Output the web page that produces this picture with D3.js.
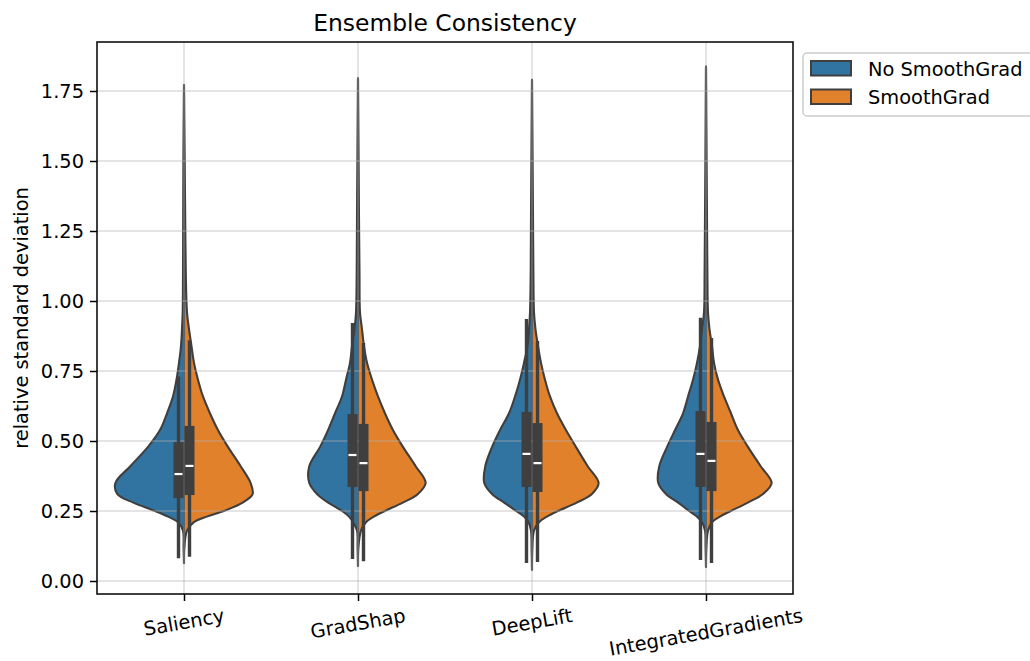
<!DOCTYPE html>
<html>
<head>
<meta charset="utf-8">
<script src="https://cdn.jsdelivr.net/npm/d3@7"></script>
<style>
  body { margin: 0; background: #fff; }
  text { font-family: "DejaVu Sans", sans-serif; fill: #000; }
</style>
</head>
<body>
<svg id="chart"></svg>
<script>
// categories and hues
const categories = ["Saliency", "GradShap", "DeepLift", "IntegratedGradients"];
const hues = ["No SmoothGrad", "SmoothGrad"];
const hueColors = ["#3274a1", "#e1812c"];

const levels = [0.12, 0.18, 0.21, 0.23, 0.25, 0.28, 0.31, 0.35, 0.41, 0.48, 0.54, 0.60, 0.66, 0.72, 0.78, 0.84, 0.90, 0.96, 1.10, 1.30, 1.50];

// density (relative width) per category, No SmoothGrad
const densNoSG = [
  [0.4, 1, 6, 16, 29, 51, 67, 69, 54, 36, 24, 17, 11, 7.5, 5, 3, 2, 1.3, 1, 0.8, 0.6],
  [0.4, 1, 5, 9, 16, 30, 41, 49, 49, 38, 30, 23, 16, 12, 8, 6, 3.5, 2, 1.3, 1, 0.6],
  [0.4, 1, 3.5, 8, 16, 28, 40, 48, 47, 40, 32, 23, 17, 12, 8, 4.5, 3, 2, 1.3, 1, 0.6],
  [0.4, 1, 4, 9, 17, 28, 40, 48, 47, 39, 31, 23, 18, 13, 9, 6, 4, 2, 1.4, 1, 0.6]
];
// density per category, SmoothGrad
const densSG = [
  [0.4, 3, 10, 23, 40, 59, 69, 67, 57, 44, 34, 26, 19, 14, 10, 7.5, 5, 3, 1.8, 1.2, 0.7],
  [0.4, 3, 8, 16, 27, 45, 60, 68, 58, 45, 35, 27, 20, 14, 9, 6, 4, 2, 1.5, 1, 0.6],
  [0.4, 2, 7, 15, 26, 45, 60, 67, 56, 44, 34, 25, 18, 13, 9, 6, 3.5, 2, 1.4, 1, 0.6],
  [0.4, 2, 6, 14, 25, 42, 57, 66, 55, 42, 32, 25, 18, 12, 8, 6, 3.5, 2, 1.4, 1, 0.6]
];

// violin tail ends
const tailLow = [0.064, 0.054, 0.04, 0.05];
const tailHigh = [1.771, 1.795, 1.79, 1.837];

// box stats
const q1NoSG = [0.296, 0.336, 0.336, 0.336];
const medNoSG = [0.382, 0.450, 0.454, 0.454];
const q3NoSG = [0.496, 0.596, 0.604, 0.607];
const whLoNoSG = [0.081, 0.079, 0.064, 0.075];
const whHiNoSG = [0.73, 0.921, 0.936, 0.94];

const q1SG = [0.307, 0.321, 0.318, 0.321];
const medSG = [0.411, 0.421, 0.421, 0.429];
const q3SG = [0.554, 0.561, 0.564, 0.568];
const whLoSG = [0.087, 0.071, 0.068, 0.064];
const whHiSG = [0.86, 0.85, 0.857, 0.868];

const yTicks = [0, 0.25, 0.5, 0.75, 1.0, 1.25, 1.5, 1.75];

// layout
const W = 1030, H = 661;
const plot = { left: 97, right: 793, top: 42, bottom: 594 };
const edge = "#3f3f3f";

const svg = d3.select("#chart").attr("width", W).attr("height", H);

const x = d3.scalePoint().domain(categories).range([plot.left, plot.right]).padding(0.5);
const y = d3.scaleLinear().domain([-0.0464, 1.925]).range([plot.bottom, plot.top]);
const dw = d3.scaleLinear().domain([0, 70]).range([0, 0.4 * x.step()]);

const dens = [densNoSG, densSG];
const boxes = [
  { q1: q1NoSG, med: medNoSG, q3: q3NoSG, lo: whLoNoSG, hi: whHiNoSG },
  { q1: q1SG, med: medSG, q3: q3SG, lo: whLoSG, hi: whHiSG }
];

// violins
categories.forEach((cat, i) => {
  const cx = x(cat);
  hues.forEach((hue, h) => {
    const sign = h === 0 ? -1 : 1;
    const pts = [{ v: tailLow[i], d: 0 }]
      .concat(levels.map((v, k) => ({ v: v, d: dens[h][i][k] })))
      .concat([{ v: tailHigh[i], d: 0 }]);
    const area = d3.area()
      .curve(d3.curveCatmullRom.alpha(0.5))
      .y((d) => y(d.v))
      .x0(cx)
      .x1((d) => cx + sign * dw(d.d));
    svg.append("path")
      .datum(pts)
      .attr("d", area)
      .attr("fill", hueColors[h])
      .attr("stroke", edge)
      .attr("stroke-width", 2.1)
      .attr("stroke-linejoin", "round");
  });
});

// grid (drawn over violin fills like matplotlib)
const grid = svg.append("g").attr("stroke", "#b0b0b0").attr("stroke-opacity", 0.45).attr("stroke-width", 1.5);
yTicks.forEach((t) => {
  grid.append("line").attr("x1", plot.left).attr("x2", plot.right).attr("y1", y(t)).attr("y2", y(t));
});
categories.forEach((c) => {
  grid.append("line").attr("x1", x(c)).attr("x2", x(c)).attr("y1", plot.top).attr("y2", plot.bottom);
});

// inner boxes
categories.forEach((cat, i) => {
  const cx = x(cat);
  boxes.forEach((b, h) => {
    const bx = cx + (h === 0 ? -5.5 : 5.5);
    svg.append("line")
      .attr("x1", bx).attr("x2", bx)
      .attr("y1", y(b.lo[i])).attr("y2", y(b.hi[i]))
      .attr("stroke", edge).attr("stroke-width", 3.4);
    svg.append("rect")
      .attr("x", bx - 5).attr("width", 10)
      .attr("y", y(b.q3[i])).attr("height", y(b.q1[i]) - y(b.q3[i]))
      .attr("fill", edge);
    svg.append("line")
      .attr("x1", bx - 4).attr("x2", bx + 4)
      .attr("y1", y(b.med[i])).attr("y2", y(b.med[i]))
      .attr("stroke", "#fff").attr("stroke-width", 2.2);
  });
});

// axes
const yAxis = svg.append("g")
  .attr("transform", `translate(${plot.left},0)`)
  .call(d3.axisLeft(y).tickValues(yTicks).tickFormat(d3.format(".2f")).tickSize(7).tickPadding(6));
const xAxis = svg.append("g")
  .attr("transform", `translate(0,${plot.bottom})`)
  .call(d3.axisBottom(x).tickSize(7).tickFormat(""));
[yAxis, xAxis].forEach((g) => {
  g.select(".domain").remove();
  g.selectAll("line").attr("stroke", "#000").attr("stroke-width", 1.5);
  g.selectAll("text").attr("font-size", 19.4).attr("fill", "#000").attr("font-family", "DejaVu Sans");
});

// rotated x tick labels (matplotlib rotation=10, centred bbox top)
categories.forEach((cat) => {
  const t = svg.append("text")
    .attr("font-size", 19.4)
    .attr("text-anchor", "middle")
    .attr("dominant-baseline", "central")
    .text(cat);
  const tw = t.node().getComputedTextLength();
  const rad = (10 * Math.PI) / 180;
  const bh = tw * Math.sin(rad) + 21 * Math.cos(rad);
  const cy = plot.bottom + 11 + bh / 2;
  t.attr("transform", `translate(${x(cat)},${cy}) rotate(-10)`);
});

// frame
svg.append("rect")
  .attr("x", plot.left).attr("y", plot.top)
  .attr("width", plot.right - plot.left).attr("height", plot.bottom - plot.top)
  .attr("fill", "none").attr("stroke", "#000").attr("stroke-width", 1.5);

// title and y label
svg.append("text")
  .attr("x", (plot.left + plot.right) / 2).attr("y", 31)
  .attr("text-anchor", "middle").attr("font-size", 23.4)
  .text("Ensemble Consistency");
svg.append("text")
  .attr("transform", `translate(28,${(plot.top + plot.bottom) / 2}) rotate(-90)`)
  .attr("text-anchor", "middle").attr("font-size", 19.4)
  .text("relative standard deviation");

// legend
const leg = svg.append("g").attr("transform", "translate(803,53)");
leg.append("rect")
  .attr("width", 234).attr("height", 63).attr("rx", 4)
  .attr("fill", "#fff").attr("fill-opacity", 0.8)
  .attr("stroke", "#cccccc").attr("stroke-width", 1.5);
hues.forEach((hue, h) => {
  const gy = 8 + h * 28.5;
  leg.append("rect")
    .attr("x", 8).attr("y", gy).attr("width", 40).attr("height", 14.5)
    .attr("fill", hueColors[h]).attr("stroke", edge).attr("stroke-width", 2);
  leg.append("text")
    .attr("x", 65).attr("y", gy + 14.5)
    .attr("font-size", 19.4)
    .text(hue);
});
</script>
</body>
</html>
